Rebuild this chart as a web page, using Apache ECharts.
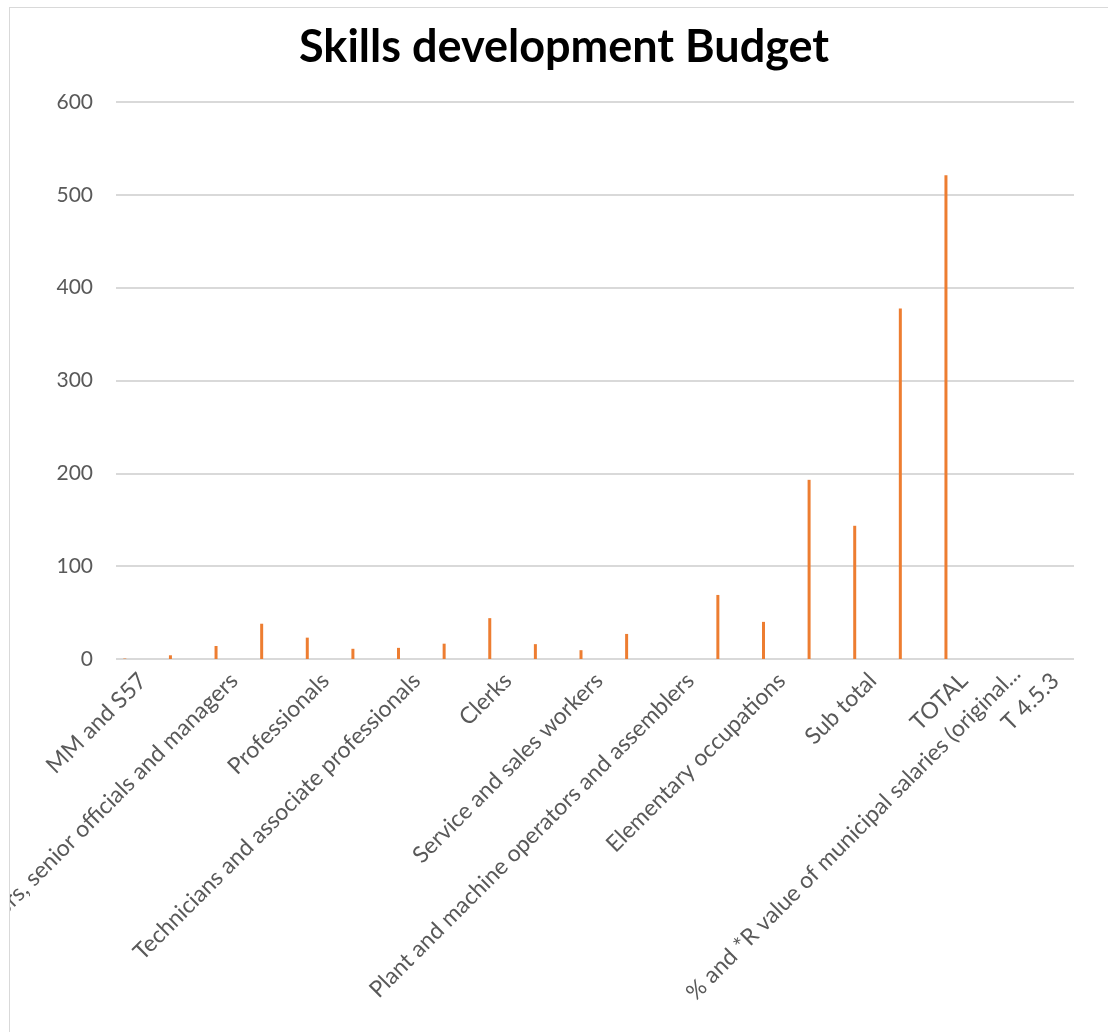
<!DOCTYPE html>
<html>
<head>
<meta charset="utf-8">
<title>Skills development Budget</title>
<script src="https://cdn.jsdelivr.net/npm/echarts@6/dist/echarts.min.js"></script>
<style>
  html, body { margin: 0; padding: 0; overflow: hidden; background: #ffffff; }
  #chart {
    position: absolute;
    left: 9px;
    top: 7px;
    width: 1100px;
    height: 1030px;
    border: 1px solid #d9d9d9;
    background: #ffffff;
  }
</style>
</head>
<body>
<div id="chart"></div>
<script>
// Occupational categories (blank entries are the second gender row of each group)
const categories = [
  'MM and S57', '',
  'Legislators, senior officials and managers', '',
  'Professionals', '',
  'Technicians and associate professionals', '',
  'Clerks', '',
  'Service and sales workers', '',
  'Plant and machine operators and assemblers', '',
  'Elementary occupations', '',
  'Sub total', '',
  'TOTAL',
  '% and *R value of municipal salaries (original...',
  'T 4.5.3'
];

// Skills development budget per row
const budget = [
  0.5, 4,
  14, 38,
  23, 11,
  12, 16.5,
  44, 16,
  9.5, 27,
  0, 69,
  40, 193,
  143.5, 377.5,
  521,
  null,
  null
];

// Value axis range and step
const yMin = 0;
const yMax = 600;
const yStep = 100;

const labelColor = '#595959';
const gridColor = '#d9d9d9';
const barColor = '#ED7D31';
const fontFamily = 'Lato, "Open Sans", sans-serif';

// Plot frame in chart coordinates
const plot = { left: 106, top: 94, width: 958, height: 557 };
// The budget column is the first slot of a wide column cluster, so its bars
// sit left of each category centre; the category names sit slightly right.
const barShift = -14;
const labelShift = 4;

function gridAt(shift) {
  return {
    left: plot.left + shift,
    top: plot.top,
    width: plot.width,
    height: plot.height,
    containLabel: false,
    outerBoundsMode: 'none'
  };
}

function hiddenValueAxis(gridIndex) {
  return {
    type: 'value', gridIndex: gridIndex, min: yMin, max: yMax, interval: yStep,
    show: false
  };
}

// The truncated long name is pushed a little further along its slant
const categoryItems = categories.map(function (name, i) {
  if (i === 19) {
    return { value: name, textStyle: { padding: [0, -10, 24, 0] } };
  }
  return name;
});

const chart = echarts.init(document.getElementById('chart'), null, { renderer: 'canvas' });

chart.setOption({
  animation: false,
  backgroundColor: '#ffffff',
  title: {
    text: 'Skills development Budget',
    left: 284,
    top: 12,
    textStyle: {
      fontFamily: fontFamily,
      fontWeight: 'bold',
      fontSize: 45,
      color: '#000000'
    }
  },
  grid: [gridAt(0), gridAt(labelShift), gridAt(barShift)],
  xAxis: [
    {
      type: 'category', gridIndex: 0, data: categories,
      axisLine: { show: false }, axisTick: { show: false }, axisLabel: { show: false },
      splitLine: { show: false }
    },
    {
      type: 'category', gridIndex: 1, data: categoryItems,
      axisLine: { show: false }, axisTick: { show: false },
      splitLine: { show: false },
      axisLabel: {
        show: true,
        interval: 0,
        rotate: 45,
        margin: 18,
        color: labelColor,
        fontFamily: fontFamily,
        fontSize: 23
      }
    },
    {
      type: 'category', gridIndex: 2, data: categories, show: false
    }
  ],
  yAxis: [
    {
      type: 'value', gridIndex: 0, min: yMin, max: yMax, interval: yStep,
      axisLine: { show: false }, axisTick: { show: false },
      axisLabel: {
        color: labelColor,
        fontFamily: fontFamily,
        fontSize: 21,
        margin: 23
      },
      splitLine: { show: true, lineStyle: { color: gridColor, width: 2 } }
    },
    hiddenValueAxis(1),
    hiddenValueAxis(2)
  ],
  series: [
    {
      name: 'Budget',
      type: 'bar',
      xAxisIndex: 2,
      yAxisIndex: 2,
      data: budget,
      barWidth: 3,
      itemStyle: { color: barColor },
      emphasis: { disabled: true }
    }
  ]
});
</script>
</body>
</html>
